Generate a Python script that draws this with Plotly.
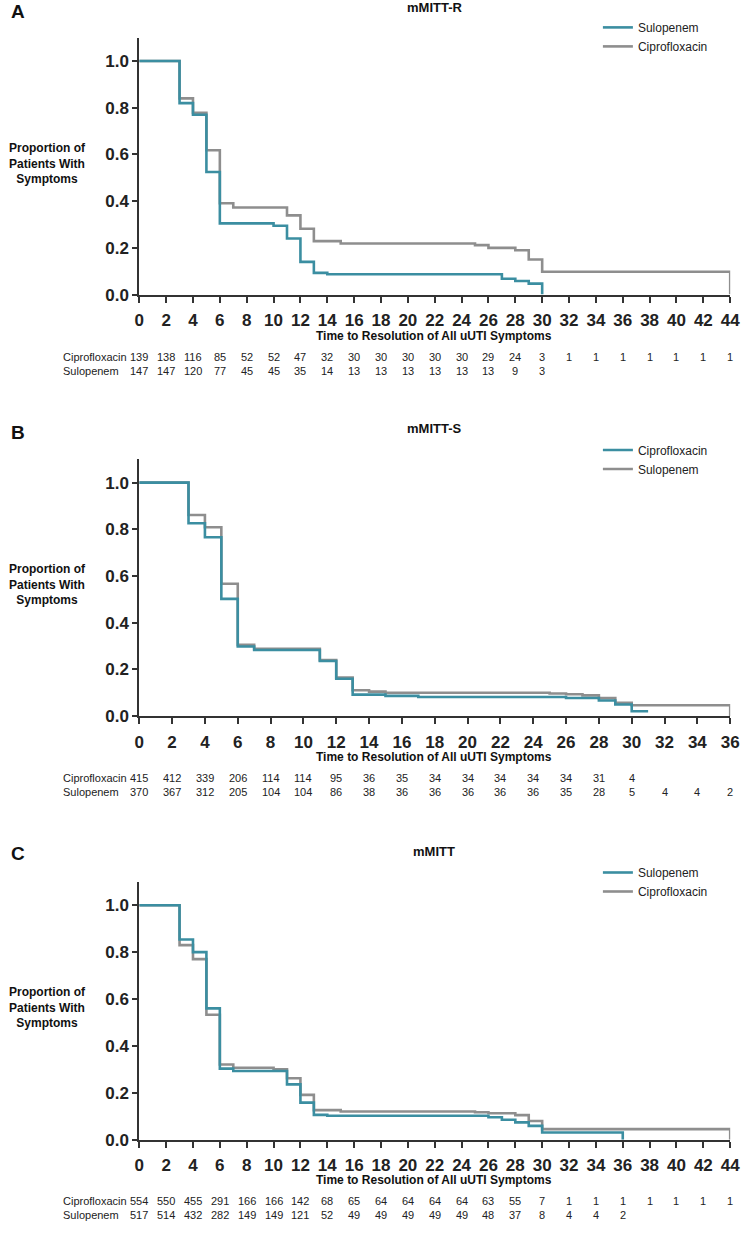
import plotly.graph_objects as go

W, H = 750, 1235

# ---------------- data ----------------
# Panel A (mMITT-R)
a_sulo_t = [0, 3, 4, 5, 6, 10, 11, 12, 13, 14, 27, 28, 29, 30]
a_sulo_s = [1.0, 0.82, 0.77, 0.525, 0.305, 0.295, 0.24, 0.14, 0.093, 0.087, 0.068, 0.058, 0.047, 0.0]
a_cipro_t = [0, 3, 4, 5, 6, 7, 11, 12, 13, 15, 25, 26, 28, 29, 30, 44]
a_cipro_s = [1.0, 0.84, 0.778, 0.618, 0.391, 0.373, 0.339, 0.282, 0.229, 0.219, 0.212, 0.2, 0.19, 0.15, 0.098, 0.0]
a_risk_cipro = [139, 138, 116, 85, 52, 52, 47, 32, 30, 30, 30, 30, 30, 29, 24, 3, 1, 1, 1, 1, 1, 1, 1]
a_risk_sulo = [147, 147, 120, 77, 45, 45, 35, 14, 13, 13, 13, 13, 13, 13, 9, 3]

# Panel B (mMITT-S) - legend labels as in the source figure
b_teal_t = [0, 3, 4, 5, 6, 7, 11, 12, 13, 15, 17, 26, 28, 29, 30, 31]
b_teal_s = [1.0, 0.826, 0.766, 0.502, 0.298, 0.283, 0.236, 0.16, 0.092, 0.087, 0.082, 0.078, 0.067, 0.05, 0.021, 0.021]
b_gray_t = [0, 3, 4, 5, 6, 7, 11, 12, 13, 14, 15, 25, 26, 27, 28, 29, 30, 36]
b_gray_s = [1.0, 0.861, 0.809, 0.567, 0.305, 0.288, 0.24, 0.165, 0.111, 0.105, 0.1, 0.097, 0.094, 0.089, 0.077, 0.057, 0.047, 0.0]
b_risk_cipro = [415, 412, 339, 206, 114, 114, 95, 36, 35, 34, 34, 34, 34, 34, 31, 4]
b_risk_sulo = [370, 367, 312, 205, 104, 104, 86, 38, 36, 36, 36, 36, 36, 35, 28, 5, 4, 4, 2]

# Panel C (mMITT)
c_sulo_t = [0, 3, 4, 5, 6, 7, 11, 12, 13, 14, 26, 27, 28, 29, 30, 36]
c_sulo_s = [1.0, 0.854, 0.80, 0.56, 0.303, 0.293, 0.236, 0.158, 0.106, 0.102, 0.096, 0.085, 0.074, 0.059, 0.031, 0.0]
c_cipro_t = [0, 3, 4, 5, 6, 7, 10, 11, 12, 13, 15, 25, 26, 28, 29, 30, 44]
c_cipro_s = [1.0, 0.83, 0.77, 0.533, 0.321, 0.307, 0.30, 0.262, 0.191, 0.126, 0.12, 0.117, 0.113, 0.105, 0.08, 0.045, 0.0]
c_risk_cipro = [554, 550, 455, 291, 166, 166, 142, 68, 65, 64, 64, 64, 64, 63, 55, 7, 1, 1, 1, 1, 1, 1, 1]
c_risk_sulo = [517, 514, 432, 282, 149, 149, 121, 52, 49, 49, 49, 49, 49, 48, 37, 8, 4, 4, 2]

panel_letters = ["A", "B", "C"]
panel_titles = ["mMITT-R", "mMITT-S", "mMITT"]
x_max = [44, 36, 44]
risk_step = 2

TEAL = "#3b8ea1"
GRAY = "#8e8e8e"
AXC = "#333333"
FONT = "Liberation Sans, Arial, sans-serif"


def py(p):
    return 1 - p / H


def px(p):
    return p / W


# panel layout in pixels
panels = [
    dict(top=38, bot=297, letter_y=12, title_y=8, leg_y=26, xt_y=339, r1=360, r2=374),
    dict(top=463, bot=722, letter_y=436, title_y=432, leg_y=452, xt_y=763, r1=784, r2=798),
    dict(top=889, bot=1149, letter_y=860, title_y=858, leg_y=878, xt_y=1190, r1=1211, r2=1225),
]

curves = [
    [(a_cipro_t, a_cipro_s, GRAY, "Ciprofloxacin", 2), (a_sulo_t, a_sulo_s, TEAL, "Sulopenem", 1)],
    [(b_gray_t, b_gray_s, GRAY, "Sulopenem", 2), (b_teal_t, b_teal_s, TEAL, "Ciprofloxacin", 1)],
    [(c_cipro_t, c_cipro_s, GRAY, "Ciprofloxacin", 2), (c_sulo_t, c_sulo_s, TEAL, "Sulopenem", 1)],
]
risks = [
    (a_risk_cipro, a_risk_sulo),
    (b_risk_cipro, b_risk_sulo),
    (c_risk_cipro, c_risk_sulo),
]

fig = go.Figure()
annotations = []
layout = {}

for i, p in enumerate(panels):
    n = "" if i == 0 else str(i + 1)
    xa, ya = "x" + n, "y" + n
    leg = "legend" if i == 0 else "legend" + str(i + 1)
    for (t, s, col, name, rank) in curves[i]:
        fig.add_trace(go.Scatter(
            x=t, y=s, mode="lines", line=dict(color=col, width=2.6, shape="hv"),
            name=name, xaxis=xa, yaxis=ya, legend=leg, legendrank=rank,
            hoverinfo="skip"))
    xm = x_max[i]
    layout["xaxis" + n] = dict(
        domain=[px(137), px(740)], range=[0, xm], anchor=ya,
        tickmode="array", tickvals=list(range(0, xm + 1, 2)),
        ticks="outside", ticklen=6, tickwidth=1.5, tickcolor=AXC,
        ticklabelstandoff=3,
        showline=True, linecolor=AXC, linewidth=2, showgrid=False, zeroline=False,
        tickfont=dict(family=FONT, size=17, color="#222222", weight="bold"),
        fixedrange=True,
    )
    layout["yaxis" + n] = dict(
        domain=[py(p["bot"]), py(p["top"])], range=[0, 1.1], anchor=xa,
        tickmode="array", tickvals=[0, 0.2, 0.4, 0.6, 0.8, 1.0], tickformat=".1f",
        ticks="outside", ticklen=5, tickwidth=1.5, tickcolor=AXC,
        showline=True, linecolor=AXC, linewidth=2, showgrid=False, zeroline=False,
        tickfont=dict(family=FONT, size=17, color="#222222", weight="bold"),
        fixedrange=True,
    )
    layout[leg] = dict(
        x=px(605), xanchor="left", y=py(p["leg_y"] - 13), yanchor="top",
        bgcolor="rgba(0,0,0,0)", font=dict(family=FONT, size=12, color="#222222"),
        tracegroupgap=0, itemwidth=30,
    )
    # panel letter
    annotations.append(dict(text="<b>" + panel_letters[i] + "</b>", x=px(4), y=py(p["letter_y"]),
                            xref="paper", yref="paper", xanchor="left", yanchor="middle",
                            showarrow=False, font=dict(family=FONT, size=19, color="#111111")))
    # panel title
    annotations.append(dict(text="<b>" + panel_titles[i] + "</b>", x=px(438), y=py(p["title_y"]),
                            xref="paper", yref="paper", xanchor="center", yanchor="middle",
                            showarrow=False, font=dict(family=FONT, size=13, color="#111111")))
    # y axis title
    annotations.append(dict(text="<b>Proportion of<br>Patients With<br>Symptoms</b>",
                            x=px(43), y=py((p["top"] + p["bot"]) / 2 - 3),
                            xref="paper", yref="paper", xanchor="center", yanchor="middle",
                            showarrow=False, align="center",
                            font=dict(family=FONT, size=12, color="#111111")))
    # x axis title
    annotations.append(dict(text="<b>Time to Resolution of All uUTI Symptoms</b>",
                            x=px(438), y=py(p["xt_y"]),
                            xref="paper", yref="paper", xanchor="center", yanchor="middle",
                            showarrow=False, font=dict(family=FONT, size=12, color="#111111")))
    # risk table
    rc, rs = risks[i]
    for label, row, yy in (("Ciprofloxacin", rc, p["r1"]), ("Sulopenem", rs, p["r2"])):
        annotations.append(dict(text=label, x=px(57), y=py(yy), xref="paper", yref="paper",
                                xanchor="left", yanchor="middle", showarrow=False,
                                font=dict(family=FONT, size=11, color="#222222")))
        for k, v in enumerate(row):
            annotations.append(dict(text=str(v), x=k * risk_step, y=py(yy), xref=xa, yref="paper",
                                    xanchor="center", yanchor="middle", showarrow=False,
                                    font=dict(family=FONT, size=11, color="#222222")))

fig.update_layout(
    width=W, height=H, margin=dict(l=0, r=0, t=0, b=0),
    paper_bgcolor="white", plot_bgcolor="white",
    showlegend=True, annotations=annotations, **layout,
)

fig.write_html(
    "out.html",
    config={"displayModeBar": False},
    post_script="document.body.style.margin='0';document.body.style.overflow='hidden';",
)
